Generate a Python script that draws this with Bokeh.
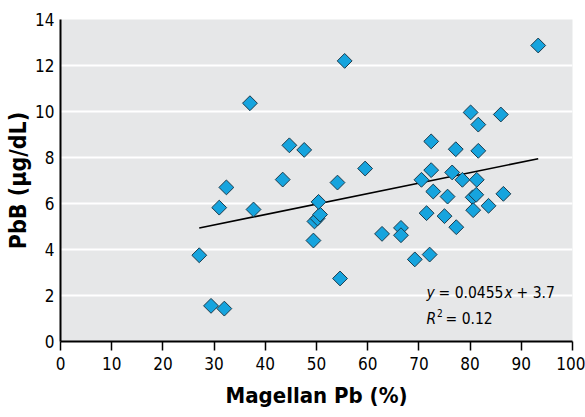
import math
from bokeh.plotting import figure
from bokeh.models import ColumnDataSource, FixedTicker, Range1d
from bokeh.core.properties import value
from bokeh.embed import file_html
from bokeh.resources import INLINE

# Data
magellan_pb = [27.1, 29.4, 32.0, 31.0, 32.4, 37.7, 37.0, 43.4, 44.7, 47.6,
               49.4, 49.6, 50.2, 50.7, 50.4, 54.1, 54.6, 55.5, 59.5, 62.8,
               66.5, 66.5, 69.2, 72.1, 70.5, 71.5, 72.4, 72.4, 72.8, 75.0,
               75.6, 76.5, 77.2, 77.3, 78.5, 80.1, 80.5, 80.6, 81.2, 81.3,
               81.6, 81.6, 83.6, 86.0, 86.5, 93.3]
pbb = [3.75, 1.55, 1.43, 5.82, 6.70, 5.74, 10.36, 7.04, 8.53, 8.33,
       4.39, 5.22, 5.35, 5.52, 6.07, 6.91, 2.74, 12.20, 7.52, 4.68,
       4.94, 4.62, 3.57, 3.78, 7.03, 5.58, 8.70, 7.45, 6.52, 5.45,
       6.30, 7.35, 8.36, 4.97, 7.03, 9.96, 6.27, 5.71, 6.38, 7.03,
       9.43, 8.29, 5.90, 9.87, 6.42, 12.87]
slope = 0.0455
intercept = 3.7
x_ticks = [0, 10, 20, 30, 40, 50, 60, 70, 80, 90, 100]
y_ticks = [0, 2, 4, 6, 8, 10, 12, 14]

FONT = "DejaVu Sans Condensed"

p = figure(width=585, height=417, x_range=Range1d(0, 100), y_range=Range1d(0, 14),
           output_backend="svg", toolbar_location=None,
           min_border_left=60, min_border_right=13, min_border_top=19, min_border_bottom=76)
p.background_fill_color = "#e6e7e8"
p.border_fill_color = "white"
p.outline_line_color = None

p.xgrid.grid_line_color = None
p.ygrid.grid_line_color = "white"
p.ygrid.grid_line_width = 2
p.ygrid.ticker = FixedTicker(ticks=y_ticks)

p.xaxis.ticker = FixedTicker(ticks=x_ticks)
p.yaxis.ticker = FixedTicker(ticks=y_ticks)
for ax in (p.xaxis[0], p.yaxis[0]):
    ax.axis_line_color = "black"
    ax.axis_line_width = 2
    ax.major_tick_line_color = "black"
    ax.major_tick_line_width = 1.5
    ax.minor_tick_line_color = None
    ax.major_label_text_font = FONT
    ax.major_label_text_font_size = "17px"
    ax.major_label_text_color = "black"
    ax.axis_label_text_font = FONT
    ax.axis_label_text_font_style = "bold"
    ax.axis_label_text_color = "black"

p.xaxis.major_tick_out = 9
p.xaxis.major_tick_in = 0
p.xaxis.major_label_standoff = 6
p.xaxis.axis_label = "Magellan Pb (%)"
p.xaxis.axis_label_text_font_size = "22px"
p.xaxis.axis_label_standoff = 10

p.yaxis.major_tick_out = 0
p.yaxis.major_tick_in = 0
p.yaxis.major_label_standoff = 6
p.yaxis.axis_label = "PbB (µg/dL)"
p.yaxis.axis_label_text_font_size = "23px"
p.yaxis.axis_label_standoff = 1

# Regression line over the data range
x0, x1 = min(magellan_pb), max(magellan_pb)
p.line([x0, x1], [slope * x0 + intercept, slope * x1 + intercept],
       line_color="black", line_width=1.6)

src = ColumnDataSource(dict(x=magellan_pb, y=pbb))
p.scatter("x", "y", source=src, marker="square", size=10.5, angle=math.pi / 4,
          fill_color="#16a4de", line_color="#1b3b4c", line_width=1)

# Equation annotation
ex, ey1, ey2 = 71.5, 2.09, 1.0
tk = dict(text_font=value(FONT), text_font_size="15.5px", text_color="black",
          text_baseline="middle", text_align="left")
p.text(x=[ex], y=[ey1], text=["y"], text_font_style="italic", **tk)
p.text(x=[ex], y=[ey1], text=["= 0.0455"], x_offset=12, **tk)
p.text(x=[ex], y=[ey1], text=["x"], text_font_style="italic", x_offset=78, **tk)
p.text(x=[ex], y=[ey1], text=["+ 3.7"], x_offset=90, **tk)
p.text(x=[ex], y=[ey2], text=["R"], text_font_style="italic", **tk)
p.text(x=[ex], y=[ey2], text=["2"], x_offset=10.5, y_offset=-6,
       text_font=value(FONT), text_font_size="10px", text_color="black",
       text_baseline="middle", text_align="left")
p.text(x=[ex], y=[ey2], text=["= 0.12"], x_offset=19, **tk)

open("out.html", "w").write(file_html(p, INLINE))
